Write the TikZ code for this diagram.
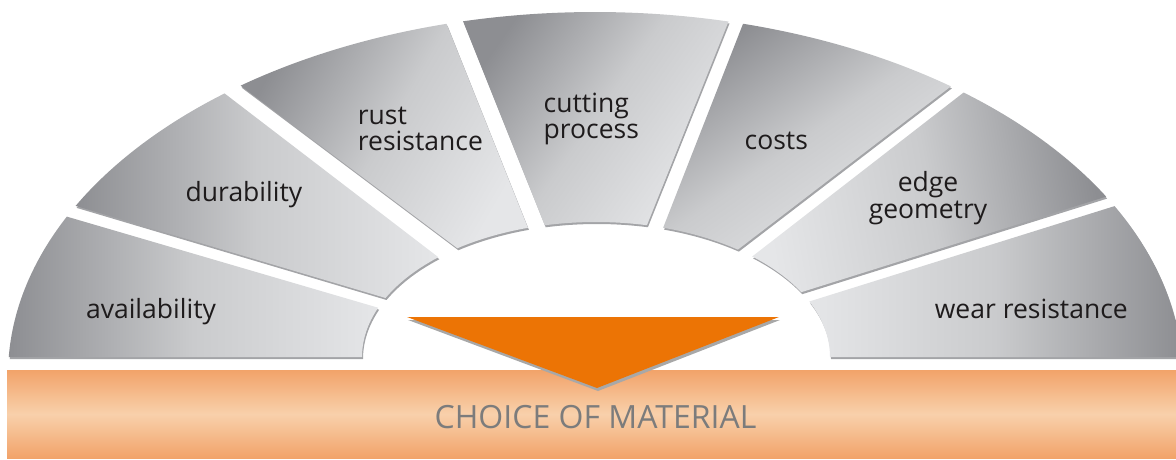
\documentclass[tikz,border=0pt]{standalone}
\usepackage{fontspec}
\setmainfont{Open Sans}
\usetikzlibrary{calc}
\definecolor{segdark}{HTML}{8D8E92}
\definecolor{segmid}{HTML}{CACBCD}
\definecolor{seglight}{HTML}{E5E6E8}
\definecolor{segshadow}{HTML}{A3A4A7}
\definecolor{orangemain}{HTML}{EC7405}
\definecolor{barorange}{HTML}{F2A369}
\definecolor{barlight}{HTML}{F8D0AB}
\definecolor{txt}{HTML}{1E1B1C}
\definecolor{choicegray}{HTML}{7C7C7C}
\definecolor{trishadow}{HTML}{A8A8A8}
\newcommand{\fanpath}[4]{([shift={(595,84)}]#1:587 and 363) arc[start angle=#1, end angle=#2, x radius=587, y radius=363] -- ([shift={(596,102)}]#4:234 and 135) arc[start angle=#4, end angle=#3, x radius=234, y radius=135] -- cycle}
\newcommand{\fanseg}[5]{%
  \fill[segshadow,shift={(1,-2)}] \fanpath{#1}{#2}{#3}{#4};
  \shade[top color=segdark, bottom color=seglight, middle color=segmid, shading angle=#5] \fanpath{#1}{#2}{#3}{#4};
}
\begin{document}
\begin{tikzpicture}[x=1pt,y=1pt,
  label/.style={text=txt, inner sep=0pt, font=\fontsize{26.5}{26.6}\selectfont},
  choice/.style={text=choicegray, inner sep=0pt, font=\fontsize{32}{36}\selectfont}]
\useasboundingbox (0,0) rectangle (1176,459);
% fan segments: outer start, outer end, inner start, inner end, shading angle
\fanseg{2.84}{27.73}{0}{24.28}{-90}
\fanseg{29.44}{51.1}{28.69}{48.12}{-80}
\fanseg{52.67}{75.39}{52.68}{73.32}{35}
\fanseg{76.85}{102.99}{77.43}{102.66}{55}
\fanseg{104.65}{127.14}{106.92}{126.34}{60}
\fanseg{129.13}{152.23}{132.35}{154.08}{90}
\fanseg{154.13}{177.16}{158.59}{180}{90}
% bar
\shade[top color=barorange, bottom color=barorange, middle color=barlight] (7,1) rectangle (1176,89);
% arrow triangle
\fill[trishadow,shift={(1,-3)}] (407,142) -- (779,142) -- (597,71) -- cycle;
\fill[orangemain] (407,142) -- (779,142) -- (597,71) -- cycle;
% labels
\node[label, anchor=base] (avail) at (151,140.7) {availability};
\node[label, anchor=base] (dura) at (244,257.3) {durability};
\node[label, anchor=west, align=left] (rust) at (357.7,330.2) {rust\\resistance};
\node[label, anchor=west, align=left] (cut) at (543.5,340) {cutting\\process};
\node[label, anchor=base] (costs) at (776.3,309.7) {costs};
\node[label, align=center] (edge) at (928,261) {edge\\geometry};
\node[label, anchor=base] (wear) at (1031.3,140.7) {wear resistance};
\node[choice, anchor=base] (choice) at (595.5,30.7) {CHOICE OF MATERIAL};
\end{tikzpicture}
\end{document}
